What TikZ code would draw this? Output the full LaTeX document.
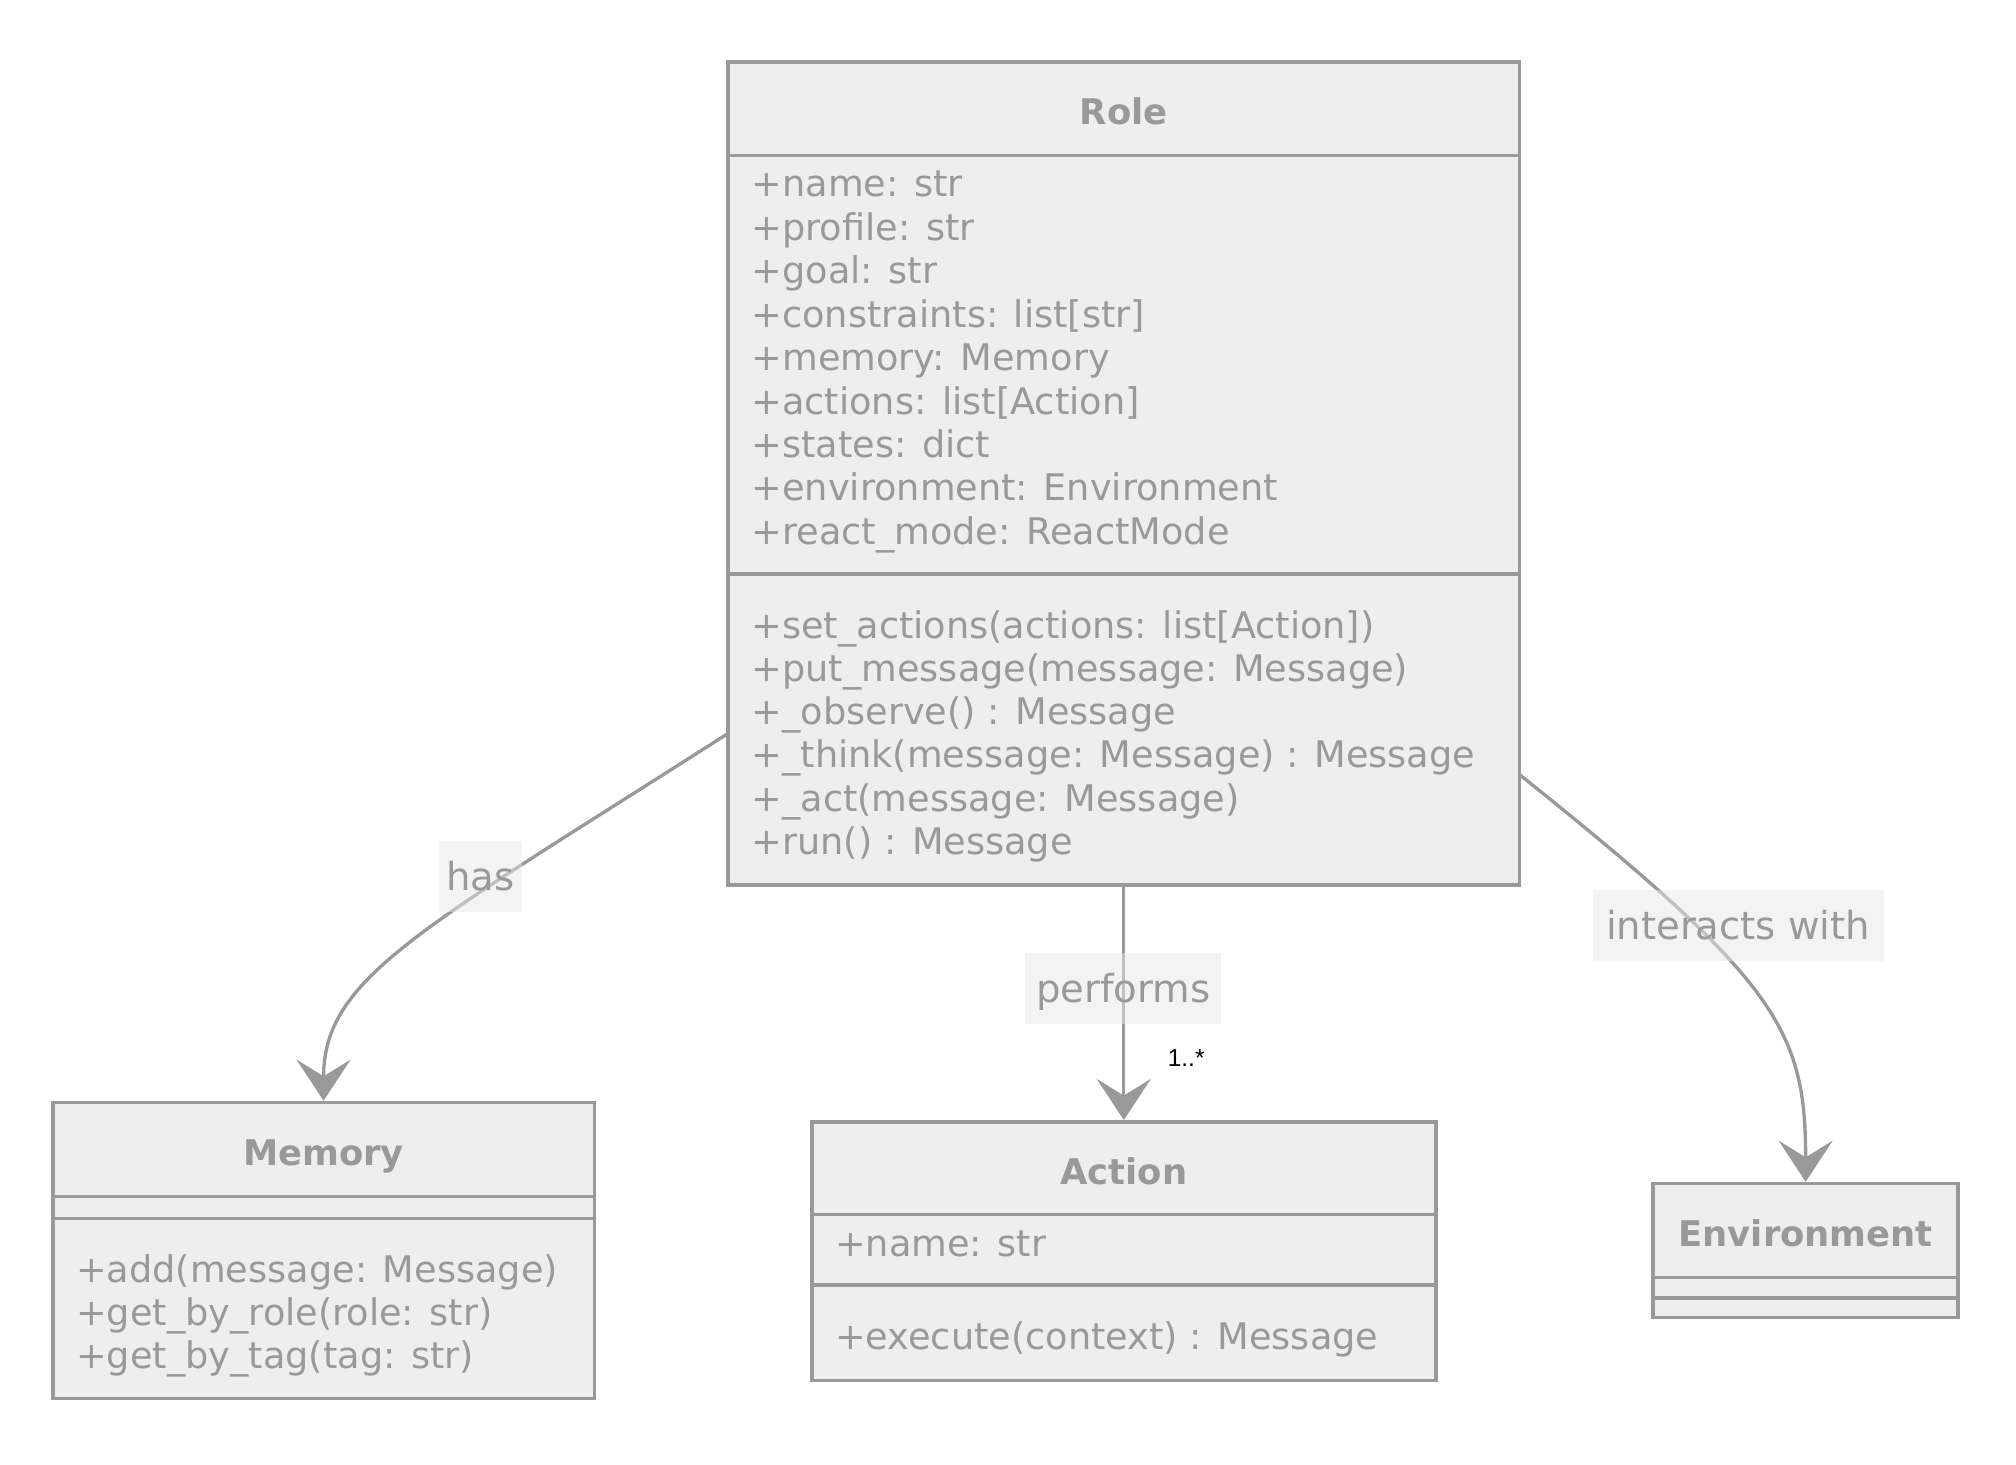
\documentclass[tikz,border=0pt]{standalone}
\usepackage{fontspec}
\setmainfont{DejaVu Sans}
\newfontfamily\arialfont{Liberation Sans}
\usetikzlibrary{arrows.meta}
\definecolor{ln}{HTML}{999999}
\definecolor{bx}{HTML}{EEEEEE}
\definecolor{lb}{HTML}{E8E8E8}
\begin{document}
\begin{tikzpicture}[x=1pt,y=-1pt,
  box/.style={draw=ln, fill=bx, line width=2.8pt, rectangle, inner sep=0pt},
  div/.style={draw=ln, line width=2.8pt},
  txt/.style={text=ln, font=\fontsize{28.5}{34}\selectfont, inner sep=0pt, anchor=base west},
  ttl/.style={text=ln, font=\bfseries\fontsize{27.5}{34}\selectfont, inner sep=0pt, anchor=base},
  conn/.style={draw=ln, line width=2.6pt, -{Stealth[length=32pt,width=42pt,inset=13pt]}},
  elabel/.style={fill=lb, fill opacity=0.5, text opacity=1, text=ln, font=\fontsize{30}{34}\selectfont,
    text height=27pt, text depth=6pt, inner xsep=0pt, inner ysep=11pt},
  mult/.style={text=black, font=\arialfont\fontsize{19}{22}\selectfont, inner sep=0pt, anchor=base}
]
\useasboundingbox (0,0) rectangle (1567,1138);

% ---------- Role ----------
\node[box, minimum width=615pt, minimum height=640pt] (role) at (873.5,368) {};
\draw[div] (566,121) -- (1181,121);
\draw[div] (566,446) -- (1181,446);
\node[ttl] (roleT) at (873.5,97) {Role};
\node[txt] (ra1) at (584,153.0) {+name: str};
\node[txt] (ra2) at (584,186.8) {+profile: str};
\node[txt] (ra3) at (584,220.5) {+goal: str};
\node[txt] (ra4) at (584,254.3) {+constraints: list[str]};
\node[txt] (ra5) at (584,288.0) {+memory: Memory};
\node[txt] (ra6) at (584,321.8) {+actions: list[Action]};
\node[txt] (ra7) at (584,355.5) {+states: dict};
\node[txt] (ra8) at (584,389.3) {+environment: Environment};
\node[txt] (ra9) at (584,423.0) {+react\_mode: ReactMode};
\node[txt] (rm1) at (584,496.0) {+set\_actions(actions: list[Action])};
\node[txt] (rm2) at (584,529.6) {+put\_message(message: Message)};
\node[txt] (rm3) at (584,563.2) {+\_observe() : Message};
\node[txt] (rm4) at (584,596.8) {+\_think(message: Message) : Message};
\node[txt] (rm5) at (584,630.4) {+\_act(message: Message)};
\node[txt] (rm6) at (584,664.0) {+run() : Message};

% ---------- Memory ----------
\node[box, minimum width=421pt, minimum height=230pt] (memory) at (251.5,972) {};
\draw[div] (41,930) -- (462,930);
\draw[div] (41,947) -- (462,947);
\node[ttl] (memT) at (251.5,906) {Memory};
\node[txt] (mm1) at (59,997.0) {+add(message: Message)};
\node[txt] (mm2) at (59,1030.5) {+get\_by\_role(role: str)};
\node[txt] (mm3) at (59,1064.0) {+get\_by\_tag(tag: str)};

% ---------- Action ----------
\node[box, minimum width=485pt, minimum height=201pt] (action) at (873.5,972.5) {};
\draw[div] (631,944) -- (1116,944);
\draw[div] (631,999) -- (1116,999);
\node[ttl] (actT) at (873.5,921) {Action};
\node[txt] (aa1) at (649,977) {+name: str};
\node[txt] (am1) at (649,1049) {+execute(context) : Message};

% ---------- Environment ----------
\node[box, minimum width=237pt, minimum height=104pt] (env) at (1403.5,972) {};
\draw[div] (1285,993) -- (1522,993);
\draw[div] (1285,1009) -- (1522,1009);
\node[ttl] (envT) at (1403.5,969) {Environment};

% ---------- Connectors ----------
\coordinate (hasS) at (566,570);
\coordinate (intS) at (1181,602);
\draw[conn] (hasS) .. controls (325,724) and (251.5,760) .. (memory.north);
\draw[conn] (role.south) -- (action.north);
\draw[conn] (intS) .. controls (1381,762) and (1403.5,800) .. (env.north);

% ---------- Labels ----------
\node[elabel, minimum width=65pt] (hasL) at (373.5,681.5) {has};
\node[elabel, minimum width=152pt] (perfL) at (873,768.5) {performs};
\node[elabel, minimum width=226pt] (intL) at (1351,719.5) {interacts with};
\node[mult] (multL) at (922,829) {1..*};
\end{tikzpicture}
\end{document}
